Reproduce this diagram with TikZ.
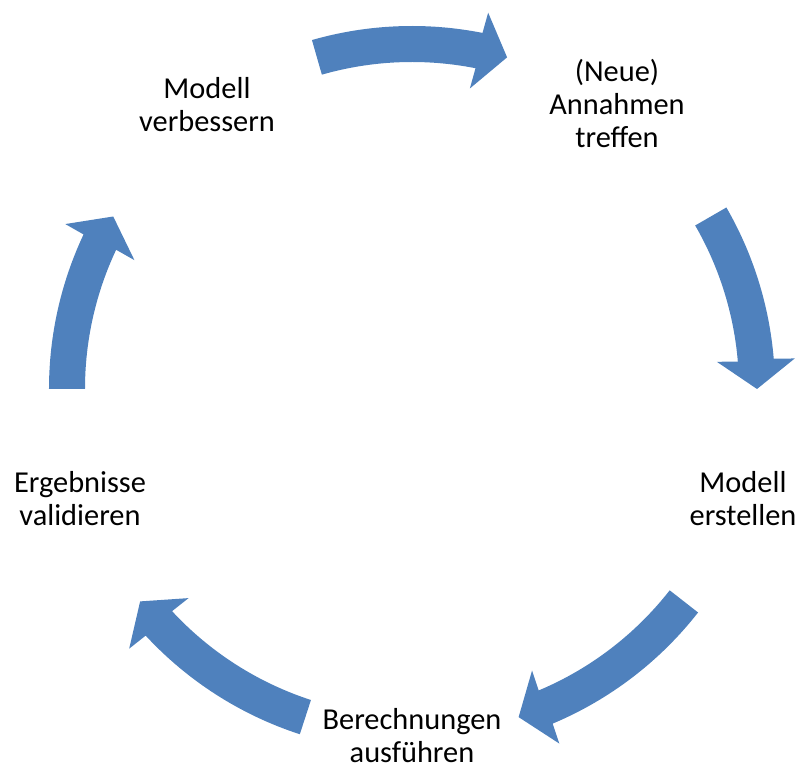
\documentclass[tikz,border=0pt]{standalone}
\usepackage{fontspec}
\setmainfont{Carlito}
\usetikzlibrary{calc}
\definecolor{cycleblue}{HTML}{4F81BD}
\tikzset{
  steplabel/.style={font=\fontsize{30.5}{33.5}\selectfont, align=center, anchor=base, inner sep=0pt},
  arrowfill/.style={fill=cycleblue, draw=none},
}
% curved block arrow around the centre (c): #1 name, #2 tail angle, #3 head base angle, #4 tip angle
\newcommand{\loopArrow}[4]{%
  \coordinate (#1b) at ($(c)+(#3:345bp)$);
  \coordinate (#1t) at ($(c)+(#4:345bp)$);
  \fill[arrowfill] ($(c)+(#2:363bp)$) arc[start angle=#2, end angle=#3, radius=363bp]
    -- ($(#1b)!39bp!90:(#1t)$) -- (#1t) -- ($(#1b)!39bp!-90:(#1t)$)
    -- ($(c)+(#3:327bp)$) arc[start angle=#3, end angle=#2, radius=327bp] -- cycle;
}
\begin{document}
\begin{tikzpicture}[x=1bp, y=1bp]
  \useasboundingbox (0,0) rectangle (802,767);
  \coordinate (c) at (412,378);

  % cycle arrows
  \loopArrow{a1}{106}{78.8}{74}
  \loopArrow{a2}{30}{4.8}{0}
  \loopArrow{a3}{-38}{-67.2}{-72}
  \loopArrow{a4}{-108}{-137.2}{-142}
  \loopArrow{a5}{180}{154.8}{150}

  % step labels (anchored at the baseline of the last line)
  \node[steplabel] (s1) at (617,619) {(Neue)\\Annahmen\\treffen};
  \node[steplabel] (s2) at (743,241) {Modell\\erstellen};
  \node[steplabel] (s3) at (412,4) {Berechnungen\\ausführen};
  \node[steplabel] (s4) at (80,241) {Ergebnisse\\validieren};
  \node[steplabel] (s5) at (207,635) {Modell\\verbessern};
\end{tikzpicture}
\end{document}
